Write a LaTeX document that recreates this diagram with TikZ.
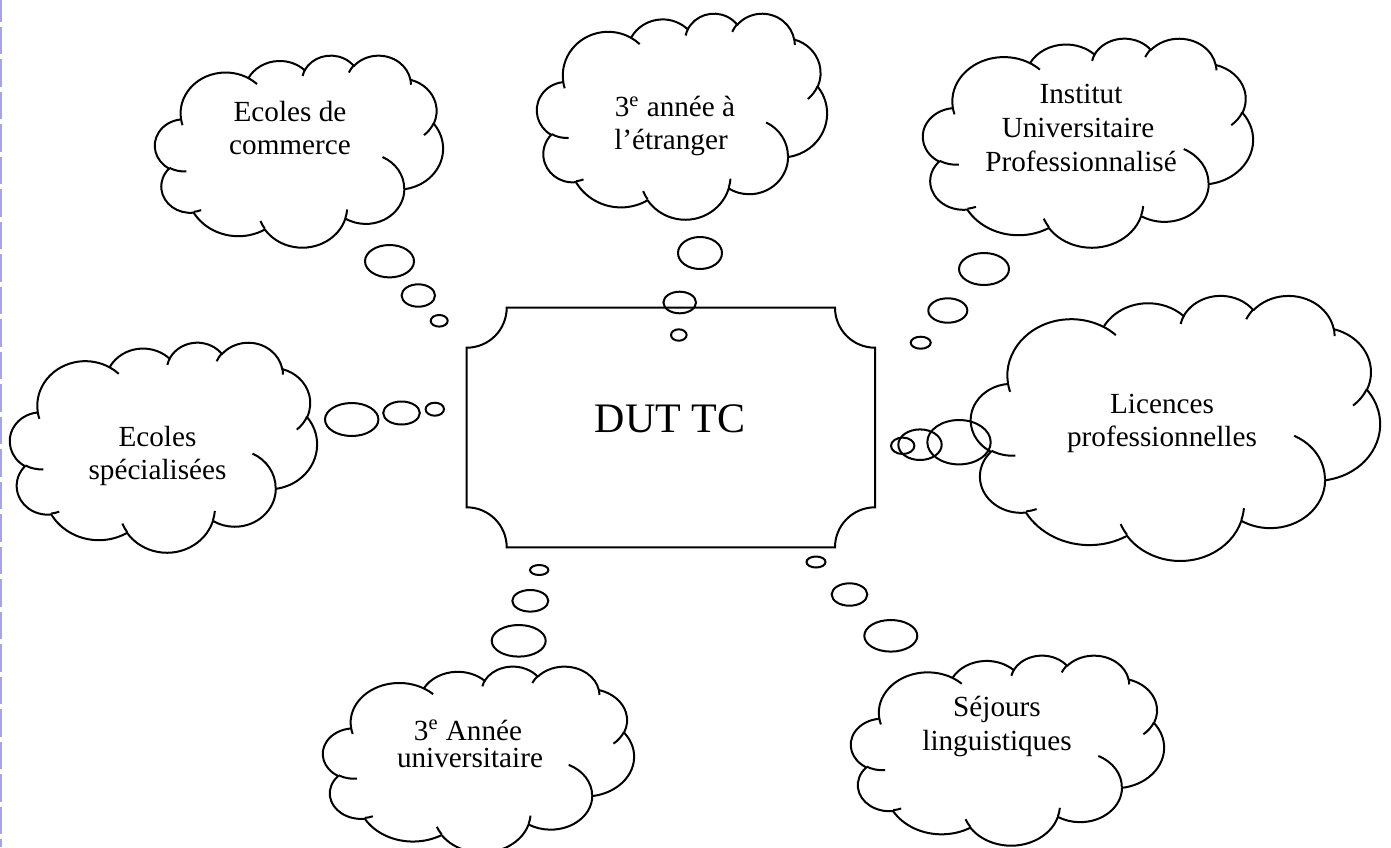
\documentclass[tikz,border=0pt]{standalone}
\usepackage{fontspec}
\setmainfont{Liberation Serif}
\definecolor{dashblue}{RGB}{165,165,225}
% one arc of the Office cloud outline: wR, hR, start angle, swing angle (visual angles)
\newcommand\carc[4]{arc[start angle={#3+dv(#3,#1,#2)}, delta angle={#4+dv(#3+#4,#1,#2)-dv(#3,#1,#2)}, x radius={#1*0.5pt}, y radius={#2*0.5pt}]}
\newcommand\cloudpath{(39.00,143.70)
 \carc{67.53}{91.90}{-190.4875}{123.7805}
 \carc{53.33}{72.67}{-144.1024}{89.9452}
 \carc{43.65}{59.45}{-145.8079}{99.7230}
 \carc{48.57}{65.95}{-130.9861}{117.2417}
 \carc{53.33}{72.73}{-78.7089}{109.0269}
 \carc{67.75}{92.20}{-46.2673}{130.2690}
 \carc{57.85}{78.67}{0.6250}{114.0333}
 \carc{67.52}{92.15}{22.4516}{115.1726}
 \carc{77.20}{105.43}{66.2426}{75.7110}
 \carc{43.60}{59.18}{-274.9421}{146.7356}
 \carc{43.45}{59.45}{-246.8285}{152.5189} -- cycle}
\newcommand\cloudinner{(46.93,261.77) \carc{43.45}{59.45}{86.7420}{26.4295}
 (69.28,348.99) \carc{43.60}{59.18}{73.6105}{11.4475}
 (164.78,390.90) \carc{67.52}{92.15}{137.6242}{14.0811}
 (288.27,347.51) \carc{67.52}{92.15}{6.4533}{15.9984}
 (341.29,229.54) \carc{57.85}{78.67}{-70.2924}{70.9174}
 (417.98,153.54) \carc{53.33}{72.73}{30.3180}{27.7515}
 (383.24,54.26) \carc{48.57}{65.95}{-13.7443}{14.8589}
 (290.78,39.52) \carc{48.57}{65.95}{-149.1815}{18.1954}
 (221.41,47.20) \carc{43.65}{59.45}{-163.4943}{17.6864}
 (140.00,51.92) \carc{67.53}{91.90}{-66.7070}{12.3194}
 (41.27,157.89) \carc{67.53}{91.90}{157.6544}{11.8582}}
% cloud in image box: x0, y0, width, height (pixels)
\newcommand\thoughtcloud[4]{%
 \begin{scope}[shift={(#1,#2)}, x=0.5pt, y=0.5pt, xscale=#3/432, yscale=-#4/432]
  \draw[cloudline] \cloudpath;
  \draw[cloudline] \cloudinner;
 \end{scope}}
\newcommand\bub[4]{\draw[bubble] (#1,#2) ellipse [x radius={#3*0.5pt}, y radius={#4*0.5pt}];}
\begin{document}
\begin{tikzpicture}[x=0.5pt, y=-0.5pt,
  declare function={dv(\x,\y,\z)=mod(atan2(\y*sin(\x),\z*cos(\x))-\x+540,360)-180;},
  cloudline/.style={draw=black, line width=1pt, line join=round},
  bubble/.style={draw=black, line width=1pt},
  boxline/.style={draw=black, line width=1pt},
  ctext/.style={font=\fontsize{14.6pt}{17pt}\selectfont, inner sep=0pt, anchor=base},
  dashline/.style={draw=dashblue, line width=0.6pt, dash pattern=on 13.75pt off 2.5pt, dash phase=3pt}]
\useasboundingbox (0,0) rectangle (1391,847);
\draw[dashline] (1,0) -- (1,847);
% central plate
\draw[boxline] (506.7,307.7) -- (835,307.7)
  .. controls (835,329.8) and (852.9,347.7) .. (875,347.7) -- (875,507.3)
  .. controls (852.9,507.3) and (835,525.2) .. (835,547.3) -- (506.7,547.3)
  .. controls (506.7,525.2) and (488.8,507.3) .. (466.7,507.3) -- (466.7,347.7)
  .. controls (488.8,347.7) and (506.7,329.8) .. (506.7,307.7) -- cycle;
\node[font=\fontsize{21pt}{25pt}\selectfont, inner sep=0pt, anchor=base] (dut) at (670,432.7) {DUT TC};
% clouds
\thoughtcloud{155}{55}{288}{192}
\thoughtcloud{537}{13}{290}{206}
\thoughtcloud{923}{38}{330}{209}
\thoughtcloud{10}{342}{307}{210}
\thoughtcloud{971}{295}{409}{265}
\thoughtcloud{323}{666}{311}{186}
\thoughtcloud{851}{655}{313}{190}
% bubbles
\bub{389.5}{261.2}{24.5}{16.2}
\bub{418.3}{295.5}{16.7}{11.2}
\bub{439.2}{320.8}{8.5}{5.8}
\bub{700}{253}{22}{16}
\bub{679.7}{302.5}{16.3}{10.8}
\bub{678.8}{335}{7.8}{5.7}
\bub{984}{269}{25}{16}
\bub{947.8}{310.5}{19.5}{12.2}
\bub{920.7}{342.7}{10}{6}
\bub{351.7}{419.5}{26.7}{16.5}
\bub{401.5}{413}{18.3}{11.5}
\bub{434.8}{409.2}{9.2}{6.5}
\bub{959}{442.2}{31.7}{22.2}
\bub{920}{444.7}{21.7}{15.3}
\bub{902.7}{445.8}{11.7}{8.2}
\bub{539.2}{570}{9.2}{5}
\bub{530.3}{600.8}{18}{10.8}
\bub{518.7}{640.8}{27}{15.8}
\bub{816}{562}{9.5}{5.5}
\bub{849.5}{594.5}{17.8}{11.2}
\bub{890.8}{635.8}{26.5}{15.8}
% texts
\node[ctext] (a1) at (290,121) {Ecoles de};
\node[ctext] (a2) at (290,154) {commerce};
\node[ctext] (b1) at (675,116.7) {3\textsuperscript{e} année à};
\node[ctext] (b2) at (671,149.7) {l’étranger};
\node[ctext] (c1) at (1081,103) {Institut};
\node[ctext] (c2) at (1078,137) {Universitaire};
\node[ctext] (c3) at (1081,171) {Professionnalisé};
\node[ctext] (d1) at (157.5,446.7) {Ecoles};
\node[ctext] (d2) at (157.5,479) {spécialisées};
\node[ctext] (e1) at (1162,413) {Licences};
\node[ctext] (e2) at (1162,446) {professionnelles};
\node[ctext] (f1) at (468,740) {3\textsuperscript{e} Année};
\node[ctext] (f2) at (470,767) {universitaire};
\node[ctext] (g1) at (997,716.7) {Séjours};
\node[ctext] (g2) at (997,750) {linguistiques};
\end{tikzpicture}
\end{document}
